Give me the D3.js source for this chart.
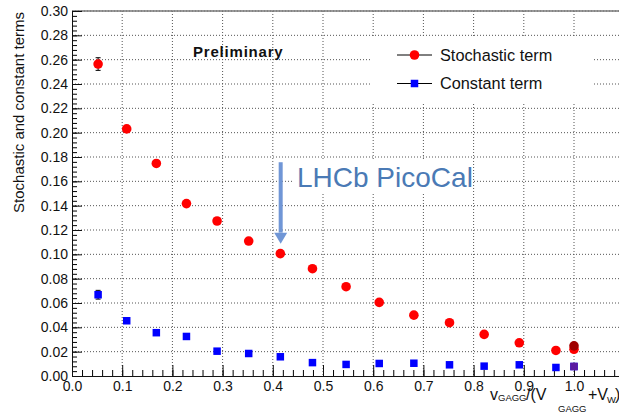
<!DOCTYPE html>
<html>
<head>
<meta charset="utf-8">
<script src="https://cdn.jsdelivr.net/npm/d3@7"></script>
<style>
  body { margin: 0; background: #fff; }
  svg { display: block; font-family: "Liberation Sans", Arial, sans-serif; }
</style>
</head>
<body>
<svg id="drawing_region"></svg>
<script>
// values
const ratio      = [0.052, 0.109, 0.168, 0.228, 0.289, 0.352, 0.415, 0.479, 0.546, 0.612, 0.681, 0.752, 0.821, 0.891, 0.964, 1.0];
const stochastic = [0.2564, 0.2031, 0.1747, 0.1417, 0.1274, 0.1109, 0.1006, 0.0882, 0.0734, 0.0605, 0.0500, 0.0438, 0.0342, 0.0273, 0.0210, 0.0220];
const stochErr   = [0.0052, 0, 0, 0, 0, 0, 0, 0, 0, 0, 0, 0, 0, 0, 0, 0];
const constant   = [0.0668, 0.0454, 0.0356, 0.0325, 0.0204, 0.0185, 0.0158, 0.0110, 0.0095, 0.0103, 0.0105, 0.0092, 0.0081, 0.0092, 0.0070, 0.0078];
const constErr   = [0.0036, 0, 0, 0, 0, 0, 0, 0, 0, 0, 0, 0, 0, 0, 0, 0];
// the two overlaid points at ratio 1.0
const extraX     = [1.0];
const extraStoch = [0.0248];
const extraConst = [0.0078];

const yTicks = d3.range(0, 0.3001, 0.02);
const xTicks = d3.range(0, 1.0001, 0.1);
const legendNames = ["Stochastic term", "Constant term"];

const W = 619, H = 413;
const mLeft = 72, mTop = 11, mBottom = 376;

const svg = d3.select('#drawing_region').attr('width', W).attr('height', H);

const x = d3.scaleLinear().domain([0, 1.2]).range([mLeft, mLeft + 1.2 * 502]);
const y = d3.scaleLinear().domain([0, 0.30]).range([mBottom, mTop]);

// grid
const grid = svg.append('g').attr('stroke', '#555').attr('stroke-width', 1).attr('stroke-dasharray', '1,2');
grid.selectAll('.gy').data(yTicks.slice(1)).enter().append('line')
  .attr('x1', mLeft).attr('x2', W).attr('y1', d => y(d)).attr('y2', d => y(d));
grid.selectAll('.gx').data(xTicks.slice(1)).enter().append('line')
  .attr('x1', d => x(d)).attr('x2', d => x(d)).attr('y1', mTop).attr('y2', mBottom);

// top frame
svg.append('line').attr('x1', mLeft).attr('x2', W).attr('y1', mTop).attr('y2', mTop)
  .attr('stroke', '#777').attr('stroke-width', 1.5);

// minor ticks
svg.append('g').attr('transform', `translate(${mLeft},0)`)
  .call(d3.axisLeft(y).tickValues(d3.range(0, 0.3001, 0.004)).tickSize(-5).tickFormat(''))
  .call(g => g.select('.domain').remove());
svg.append('g').attr('transform', `translate(0,${mBottom})`)
  .call(d3.axisBottom(x).tickValues(d3.range(0, 1.2001, 0.02)).tickSize(-6).tickFormat(''))
  .call(g => g.select('.domain').remove());

// major axes
const yAxis = svg.append('g').attr('transform', `translate(${mLeft},0)`)
  .call(d3.axisLeft(y).tickValues(yTicks).tickSize(-10).tickSizeOuter(0).tickPadding(4).tickFormat(d3.format('.2f')));
const xAxis = svg.append('g').attr('transform', `translate(0,${mBottom})`)
  .call(d3.axisBottom(x).tickValues(xTicks).tickSize(-11).tickSizeOuter(0).tickPadding(5).tickFormat(d3.format('.1f')));
[yAxis, xAxis].forEach(a => {
  a.selectAll('text').attr('font-size', 14).attr('fill', '#111').attr('font-family', '"Liberation Sans", Arial, sans-serif');
  a.selectAll('line, path').attr('stroke', '#111');
});

// axis titles
svg.append('text')
  .attr('transform', `translate(24,${mTop + 1}) rotate(-90)`)
  .attr('text-anchor', 'end').attr('font-size', 15).attr('fill', '#111')
  .text('Stochastic and constant terms');

const xt = svg.append('g').attr('fill', '#111');
xt.append('text').attr('x', 490).attr('y', 400).attr('font-size', 16).text('v');
xt.append('text').attr('x', 498).attr('y', 401).attr('font-size', 9.5).text('GAGG');
xt.append('text').attr('x', 526).attr('y', 400).attr('font-size', 16).text('/(V');
xt.append('text').attr('x', 558).attr('y', 412).attr('font-size', 9.5).text('GAGG');
xt.append('text').attr('x', 588).attr('y', 400).attr('font-size', 16).text('+V');
xt.append('text').attr('x', 607).attr('y', 403).attr('font-size', 9.5).text('W');
xt.append('text').attr('x', 615).attr('y', 400).attr('font-size', 16).text(')');

// error bars
const errs = svg.append('g').attr('stroke', '#000').attr('stroke-width', 1);
function drawErr(vals, e) {
  ratio.forEach((r, i) => {
    if (!e[i]) return;
    const cx = x(r);
    errs.append('line').attr('x1', cx).attr('x2', cx).attr('y1', y(vals[i] - e[i])).attr('y2', y(vals[i] + e[i]));
    [vals[i] - e[i], vals[i] + e[i]].forEach(v =>
      errs.append('line').attr('x1', cx - 2.5).attr('x2', cx + 2.5).attr('y1', y(v)).attr('y2', y(v)));
  });
}
drawErr(stochastic, stochErr);
drawErr(constant, constErr);

// points
const sq = 7.5;
svg.append('g').selectAll('rect').data(ratio).enter().append('rect')
  .attr('x', d => x(d) - sq / 2).attr('y', (d, i) => y(constant[i]) - sq / 2)
  .attr('width', sq).attr('height', sq).attr('fill', '#0000ff');
svg.append('g').selectAll('circle').data(ratio).enter().append('circle')
  .attr('cx', d => x(d)).attr('cy', (d, i) => y(stochastic[i]))
  .attr('r', 4.8).attr('fill', '#ff0000');
svg.append('g').selectAll('circle').data(extraX).enter().append('circle')
  .attr('cx', d => x(d)).attr('cy', (d, i) => y(extraStoch[i]))
  .attr('r', 4.8).attr('fill', '#a00000');
svg.append('g').selectAll('rect').data(extraX).enter().append('rect')
  .attr('x', d => x(d) - sq / 2).attr('y', (d, i) => y(extraConst[i]) - sq / 2)
  .attr('width', sq).attr('height', sq).attr('fill', '#5c1aa0');

// Preliminary
svg.append('text').attr('x', 193).attr('y', 57).attr('font-size', 15).attr('font-weight', 'bold')
  .attr('letter-spacing', 0.8).attr('fill', '#111').text('Preliminary');

// legend
svg.append('rect').attr('x', 372).attr('y', 38).attr('width', 221).attr('height', 66).attr('fill', '#fff');
const leg = svg.append('g');
legendNames.forEach((name, i) => {
  const ly = 55 + i * 28.5;
  leg.append('line').attr('x1', 397).attr('x2', 432).attr('y1', ly).attr('y2', ly).attr('stroke', '#000');
  if (i === 0) leg.append('circle').attr('cx', 414.5).attr('cy', ly).attr('r', 4.8).attr('fill', '#ff0000');
  else leg.append('rect').attr('x', 414.5 - sq / 2).attr('y', ly - sq / 2).attr('width', sq).attr('height', sq).attr('fill', '#0000ff');
  leg.append('text').attr('x', 440).attr('y', ly).attr('dy', '0.36em').attr('font-size', 16.3).attr('fill', '#111').text(name);
});

// annotation
const arrowX = 0.4157, arrowTop = 0.1757, arrowTip = 0.1088;
svg.append('rect').attr('x', 292).attr('y', 160).attr('width', 180).attr('height', 33).attr('fill', '#fff');
svg.append('text').attr('x', 297).attr('y', 187).attr('font-size', 28).attr('fill', '#4a7ab5').text('LHCb PicoCal');
const ax = x(arrowX), ay0 = y(arrowTop), ay1 = y(arrowTip);
svg.append('rect').attr('x', ax - 2).attr('y', ay0).attr('width', 4).attr('height', ay1 - ay0 - 11).attr('fill', '#7096d6');
svg.append('path').attr('d', `M${ax - 6.5},${ay1 - 11}L${ax + 6.5},${ay1 - 11}L${ax},${ay1}Z`).attr('fill', '#7096d6');
</script>
</body>
</html>
